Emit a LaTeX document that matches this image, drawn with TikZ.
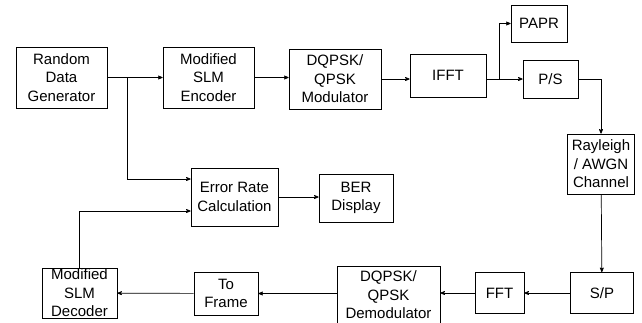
\documentclass[tikz,border=0pt]{standalone}
\usepackage{fontspec}
\setmainfont{Liberation Sans}
\usepackage{tikz}
\usetikzlibrary{arrows,positioning}

\begin{document}
\begin{tikzpicture}[->,>=stealth',x=1pt,y=-1pt,line width=0.7pt,
    block/.style={draw,rectangle,align=center,inner xsep=1pt,inner ysep=0.5pt,font=\fontsize{15}{18.5}\selectfont}]
            \useasboundingbox (0,0) rectangle (642,322);

            % transmitter
            \node (rdg) [block,minimum width=91pt,minimum height=61pt] at (61.5,77.5) {Random\\Data\\Generator};
            \node (enc) [block,minimum width=91pt,minimum height=61pt] at (208.5,77.5) {Modified\\SLM\\Encoder};
            \node (mod) [block,minimum width=92pt,minimum height=60pt] at (335,79) {DQPSK/\\QPSK\\Modulator};
            \node (ifft) [block,minimum width=76pt,minimum height=43pt] at (448,75.5) {IFFT};
            \node (papr) [block,minimum width=56pt,minimum height=37pt] at (539,23.5) {PAPR};
            \node (ps) [block,minimum width=55pt,minimum height=38pt] at (550.5,79) {P/S};
            \node (ray) [block,minimum width=67pt,minimum height=60pt] at (601,164) {Rayleigh\\/ AWGN\\Channel};

            % receiver
            \node (sp) [block,minimum width=63pt,minimum height=41pt] at (602,293) {S/P};
            \node (fft) [block,minimum width=49pt,minimum height=41pt] at (499.5,293) {FFT};
            \node (demod) [block,minimum width=103pt,minimum height=58pt] at (388.5,295) {DQPSK/\\QPSK\\Demodulator};
            \node (tof) [block,minimum width=64pt,minimum height=43pt] at (226,293.5) {To\\Frame};
            \node (dec) [block,minimum width=75pt,minimum height=50pt] at (79.5,293) {Modified\\SLM\\Decoder};

            \node (err) [block,minimum width=87pt,minimum height=58pt] at (234.5,197) {Error Rate\\Calculation};
            \node (ber) [block,minimum width=74pt,minimum height=48pt] at (356,198) {BER\\Display};

            \coordinate (tap1) at (127,77.5);
            \coordinate (tap2) at (499,79);

            \draw (rdg) -- (enc);
            \draw (tap1) |- ([yshift=18pt]err.west);
            \draw (enc) -- (enc -| mod.west);
            \draw (mod) -- (mod -| ifft.west);
            \draw[-] (ifft.east |- tap2) -- (tap2);
            \draw (tap2) -- (ps);
            \draw (tap2) |- (papr);
            \draw (ps) -| (ray);
            \draw (ray) -- (sp);
            \draw (sp) -- (fft);
            \draw (fft) -- (fft -| demod.east);
            \draw (demod.west |- tof) -- (tof);
            \draw (tof) -- (dec);
            \draw (dec.north) |- ([yshift=-14pt]err.west);
            \draw (err) -- (err -| ber.west);

        \end{tikzpicture}
\end{document}
